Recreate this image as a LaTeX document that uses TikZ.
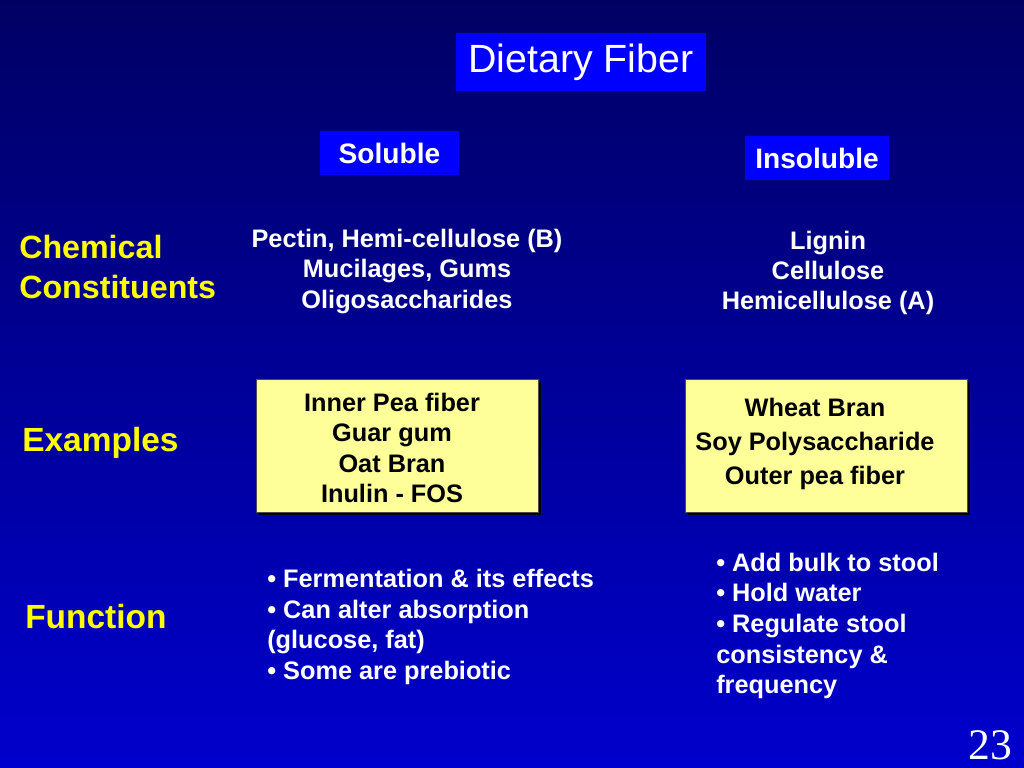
\documentclass[tikz,border=0pt]{standalone}
\usepackage{fontspec}
\setmainfont{Liberation Sans}
\newfontfamily\pagefont{Liberation Serif}
\usetikzlibrary{shadows}

\definecolor{bgtop}{RGB}{0,0,100}
\definecolor{bgbot}{RGB}{0,0,205}
\definecolor{tagblue}{RGB}{0,0,255}
\definecolor{notepad}{RGB}{255,255,153}
\definecolor{rowyellow}{RGB}{255,255,0}

\tikzset{
  tag/.style={fill=tagblue, text=white, inner sep=0pt, minimum height=1.1cm,
    font=\bfseries\fontsize{20}{24}\selectfont},
  rowname/.style={text=rowyellow, anchor=west, inner sep=0pt, align=left,
    font=\bfseries\fontsize{22.9}{28.5}\selectfont},
  listing/.style={text=white, inner sep=0pt, align=center,
    font=\bfseries\fontsize{18}{21.5}\selectfont},
  bullets/.style={text=white, inner sep=0pt, anchor=west, align=left,
    font=\bfseries\fontsize{18}{21.8}\selectfont},
  examplebox/.style={fill=notepad, draw=black!70, line width=0.6pt,
    minimum width=7.05cm, minimum height=3.325cm,
    drop shadow={shadow xshift=2.1pt, shadow yshift=-2.1pt, opacity=1, fill=black}},
  boxtext/.style={inner sep=0pt, align=center, text=black}
}

\begin{document}
\begin{tikzpicture}[x=0.025cm, y=-0.025cm]
  \useasboundingbox (0,0) rectangle (1024,768);
  \shade[top color=bgtop, bottom color=bgbot] (0,0) rectangle (1024,768);

  % headings
  \node[tag, minimum width=6.25cm, minimum height=1.45cm, font=\fontsize{28}{32}\selectfont] (fiber) at (581,62) {Dietary Fiber};
  \node[tag, minimum width=3.475cm] (soluble) at (389.5,153) {Soluble};
  \node[tag, minimum width=3.6cm] (insoluble) at (817,158) {Insoluble};

  % row names
  \node[rowname] (chem) at (19,267) {Chemical\\Constituents};
  \node[rowname, font=\bfseries\fontsize{23.8}{28.5}\selectfont] (examples) at (22,443) {Examples};
  \node[rowname, font=\bfseries\fontsize{23.8}{28.5}\selectfont] (function) at (25,617) {Function};

  % chemical constituents
  \node[listing] (solchem) at (407,271.5) {Pectin, Hemi-cellulose (B)\\Mucilages, Gums\\Oligosaccharides};
  \node[listing] (insolchem) at (828,273) {Lignin\\Cellulose\\Hemicellulose (A)};

  % examples
  \node[examplebox] (solbox) at (397,445.5) {};
  \node[examplebox] (insolbox) at (826,445.5) {};
  \node[boxtext, font=\bfseries\fontsize{18}{21.7}\selectfont] (solex) at (392,448) {Inner Pea fiber\\Guar gum\\Oat Bran\\Inulin - FOS};
  \node[boxtext, font=\bfseries\fontsize{18}{24.2}\selectfont] (insolex) at (815,443.5) {Wheat Bran\\Soy Polysaccharide\\Outer pea fiber};

  % functions
  \node[bullets] (solfun) at (267,627) {• Fermentation \& its effects\\• Can alter absorption\\(glucose, fat)\\• Some are prebiotic};
  \node[bullets] (insolfun) at (716,626) {• Add bulk to stool\\• Hold water\\• Regulate stool\\consistency \&\\frequency};

  \node[text=white, inner sep=0pt, font=\pagefont\fontsize{31}{36}\selectfont] (page) at (990,745) {23};
\end{tikzpicture}
\end{document}
